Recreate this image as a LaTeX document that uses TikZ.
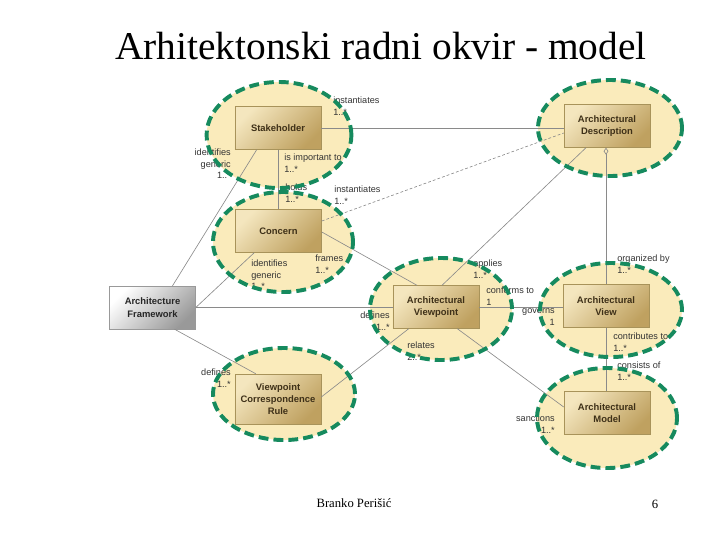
\documentclass[tikz,border=0pt]{standalone}
\usepackage{fontspec}
\setmainfont{Liberation Serif}
\newfontfamily\umlfont{Liberation Sans}
\usepackage{tikz}
\usetikzlibrary{arrows.meta,calc,shapes.geometric}
\definecolor{zoneFill}{HTML}{FAEBBB}
\definecolor{zoneGreen}{HTML}{168A5E}
\definecolor{boxLight}{HTML}{F4E6BE}
\definecolor{boxMid}{HTML}{E6D29F}
\definecolor{boxDark}{HTML}{BFA160}
\definecolor{boxEdge}{HTML}{A8935A}
\definecolor{boxText}{HTML}{3E3018}
\definecolor{linkGrey}{HTML}{8A8A8A}

\def\zonelist{stake/279/135/3.62/2.65, concern/283/242/3.5/2.5,
  desc/610/128/3.6/2.4, vpoint/441/309/3.55/2.55, view/611/310/3.55/2.35,
  model/607/418/3.5/2.5, rule/284/394/3.55/2.3}

\begin{document}
\begin{tikzpicture}[x=0.025cm,y=-0.025cm,
    zone/.style={ellipse,inner sep=0pt,fill=zoneFill},
    zoneline/.style={ellipse,inner sep=0pt,draw=zoneGreen,line width=2.8pt,dash pattern=on 7pt off 3.6pt},
    cls/.style={rectangle,draw=boxEdge,line width=0.4pt,top color=boxLight,middle color=boxMid,bottom color=boxDark,
      shading angle=45,minimum width=2.15cm,minimum height=1.07cm,inner sep=1pt,align=center,
      font=\umlfont\bfseries\fontsize{6.7}{9}\selectfont,text=boxText},
    greybox/.style={draw=black!40,top color=white,middle color=black!12,bottom color=black!40,shading angle=45,text=black!85},
    link/.style={draw=linkGrey,line width=0.45pt},
    role/.style={inner sep=0pt,font=\umlfont\fontsize{6.5}{8.3}\selectfont,text=black!80}]
    \useasboundingbox (0,0) rectangle (720,540);

    % yellow zones behind the classes
    \foreach \n/\cx/\cy/\w/\h in \zonelist
      \node[zone,minimum width=\w cm,minimum height=\h cm] (z\n) at (\cx,\cy) {};

    \node[cls] (stakeholder) at (278,128) {Stakeholder};
    \node[cls] (concern) at (278.5,231) {Concern};
    \node[cls] (archdesc) at (607,126) {Architectural\\Description};
    \node[cls] (viewpoint) at (436,307) {Architectural\\Viewpoint};
    \node[cls] (archview) at (606,306) {Architectural\\View};
    \node[cls] (archmodel) at (607,413) {Architectural\\Model};
    \node[cls,minimum height=1.25cm,font=\umlfont\bfseries\fontsize{6.7}{8.5}\selectfont] (corrrule) at (278,399) {Viewpoint\\Correspondence\\Rule};
    \node[cls,greybox] (framework) at (152.5,307.5) {Architecture\\Framework};

    % associations
    \draw[link] (stakeholder.east) -- (stakeholder.east -| archdesc.west);
    \draw[link] (stakeholder.south) -- (stakeholder.south |- concern.north);
    \draw[link] ($(stakeholder.south west)+(22,0)$) -- ($(framework.north)+(20,0)$);
    \draw[link,dash pattern=on 2pt off 1.5pt] ($(concern.east)+(0,-10)$) -- ($(archdesc.west)+(0,7)$);
    \draw[link] ($(concern.east)+(0,1)$) -- ($(viewpoint.north)+(-19,0)$);
    \draw[link] ($(concern.south west)+(19,0)$) -- (framework.east);
    \draw[link] (framework.east) -- (framework.east -| viewpoint.west);
    \draw[link] ($(framework.south)+(22,0)$) -- ($(corrrule.north west)+(21,0)$);
    \draw[link] ($(corrrule.east)+(0,-2)$) -- ($(viewpoint.south west)+(16,0)$);
    \draw[link] ($(viewpoint.north)+(6,0)$) -- ($(archdesc.south)+(-21,0)$);
    \draw[link] (viewpoint.east) -- (viewpoint.east -| archview.west);
    \draw[link,{Diamond[open,length=5pt,width=3.4pt]}-] (archview.north |- archdesc.south) -- (archview.north);
    \draw[link] (archview.south) -- (archview.south |- archmodel.north);
    \draw[link] ($(viewpoint.south east)+(-22,0)$) -- ($(archmodel.west)+(0,-6)$);

    % role names and multiplicities
    \node[role,anchor=north west,align=left] (r1) at (333,96.5) {instantiates\\1..*};
    \node[role,anchor=north east,align=right] (r2) at (231,148.5) {identifies\\generic\\1..*};
    \node[role,anchor=north west,align=left] (r3) at (284,153.5) {is important to\\1..*};
    \node[role,anchor=north west,align=left] (r4) at (285,183.5) {holds\\1..*};
    \node[role,anchor=north west,align=left] (r5) at (334,185.5) {instantiates\\1..*};
    \node[role,anchor=north west,align=left] (r6) at (251,259.5) {identifies\\generic\\1..*};
    \node[role,anchor=north west,align=left] (r7) at (315,254.5) {frames\\1..*};
    \node[role,anchor=north east,align=right] (r8) at (390,311.5) {defines\\1..*};
    \node[role,anchor=north east,align=right] (r9) at (231,368.5) {defines\\1..*};
    \node[role,anchor=north west,align=left] (r10) at (473,259.5) {applies\\1..*};
    \node[role,anchor=north west,align=left] (r11) at (486,286.5) {conforms to\\1};
    \node[role,anchor=north east,align=right] (r12) at (555,308.5) {governs\\1};
    \node[role,anchor=north west,align=left] (r13) at (407,341.5) {relates\\2..*};
    \node[role,anchor=north west,align=left] (r14) at (617,254.5) {organized by\\1..*};
    \node[role,anchor=north west,align=left] (r15) at (613,332.5) {contributes to\\1..*};
    \node[role,anchor=north west,align=left] (r16) at (617,361.5) {consists of\\1..*};
    \node[role,anchor=north east,align=right] (r17) at (555,414.5) {sanctions\\1..*};

    % dashed green outlines on top
    \foreach \n/\cx/\cy/\w/\h in \zonelist
      \node[zoneline,minimum width=\w cm,minimum height=\h cm] (zl\n) at (\cx,\cy) {};

    \node[anchor=base,font=\fontsize{28}{30}\selectfont] (title) at (381,59) {Arhitektonski radni okvir - model};
    \node[font=\fontsize{9}{10}\selectfont] (author) at (354,503) {Branko Perišić};
    \node[font=\fontsize{9}{10}\selectfont] (pagenum) at (655,504) {6};
  \end{tikzpicture}
\end{document}
